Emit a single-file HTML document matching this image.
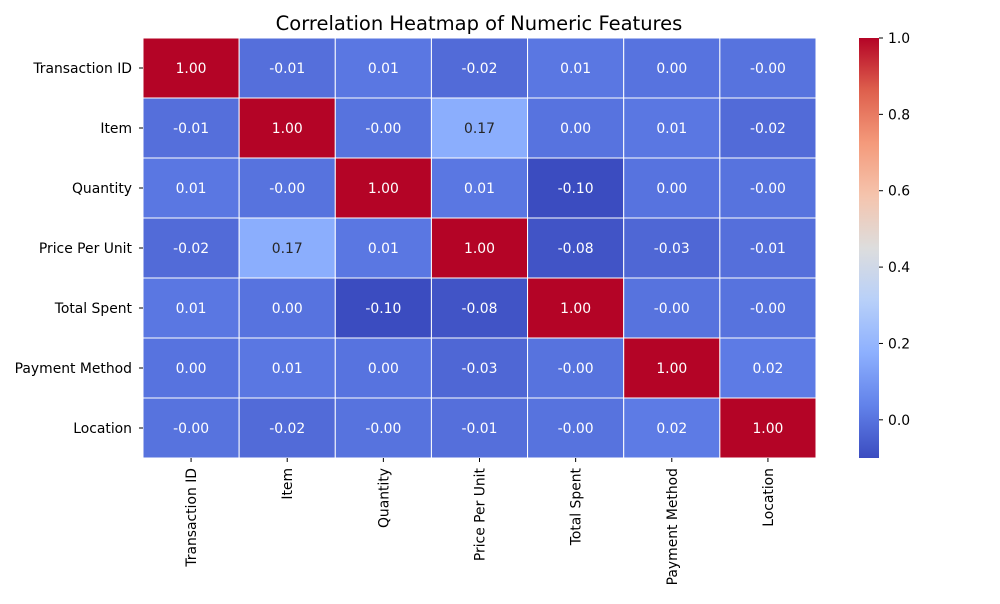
<!DOCTYPE html>
<html><head><meta charset="utf-8"><style>
body{margin:0;background:#fff;font-family:"DejaVu Sans","Liberation Sans",sans-serif}
</style></head><body>
<svg id="chart" width="1000" height="600" xmlns="http://www.w3.org/2000/svg" font-family="DejaVu Sans, Liberation Sans, sans-serif">
<defs><linearGradient id="cg" x1="0" y1="1" x2="0" y2="0">
<stop offset="0" stop-color="rgb(59,76,192)"/><stop offset="0.125" stop-color="rgb(98,130,234)"/>
<stop offset="0.25" stop-color="rgb(141,176,254)"/><stop offset="0.375" stop-color="rgb(184,208,249)"/>
<stop offset="0.5" stop-color="rgb(221,221,221)"/><stop offset="0.625" stop-color="rgb(245,196,173)"/>
<stop offset="0.75" stop-color="rgb(244,154,123)"/><stop offset="0.875" stop-color="rgb(222,96,77)"/>
<stop offset="1" stop-color="rgb(180,4,38)"/></linearGradient></defs>
<text x="479" y="30" text-anchor="middle" font-size="19.5" fill="#000">Correlation Heatmap of Numeric Features</text>
<g id="cells"></g><g id="labels"></g>
<rect x="859" y="38" width="20" height="420" fill="url(#cg)"/>
<g id="cbticks"></g>
</svg>
<script>
const categories=["Transaction ID","Item","Quantity","Price Per Unit","Total Spent","Payment Method","Location"];
const row0=[1.00,-0.01,0.01,-0.02,0.01,0.00,-0.001];
const row1=[-0.01,1.00,-0.001,0.17,0.00,0.01,-0.02];
const row2=[0.01,-0.001,1.00,0.01,-0.10,0.00,-0.001];
const row3=[-0.02,0.17,0.01,1.00,-0.08,-0.03,-0.01];
const row4=[0.01,0.00,-0.10,-0.08,1.00,-0.001,-0.001];
const row5=[0.00,0.01,0.00,-0.03,-0.001,1.00,0.02];
const row6=[-0.001,-0.02,-0.001,-0.01,-0.001,0.02,1.00];
const matrix=[row0,row1,row2,row3,row4,row5,row6];
const cbTicks=[0.0,0.2,0.4,0.6,0.8,1.0];
const vmin=-0.10,vmax=1.0;
const NS="http://www.w3.org/2000/svg";
const X0=143,X1=816,Y0=38,Y1=458,n=categories.length;
const cw=(X1-X0)/n,ch=(Y1-Y0)/n;
const xPos=i=>X0+i*cw, yPos=i=>Y0+i*ch;
const stops=[[59,76,192],[98,130,234],[141,176,254],[184,208,249],[221,221,221],[245,196,173],[244,154,123],[222,96,77],[180,4,38]];
function cmap(v){let t=Math.max(0,Math.min(1,(v-vmin)/(vmax-vmin)))*8;let i=Math.min(7,Math.floor(t)),f=t-i;
return stops[i].map((a,k)=>Math.round(a+(stops[i+1][k]-a)*f));}
function fmt(v){const s=Math.abs(v).toFixed(2);return (v<0?'-':'')+s;}
function mk(tag,attrs,parent){const e=document.createElementNS(NS,tag);for(const k in attrs)e.setAttribute(k,attrs[k]);parent.appendChild(e);return e;}
const cells=document.getElementById('cells'),labels=document.getElementById('labels');
matrix.forEach((row,r)=>row.forEach((v,c)=>{
 const col=cmap(v);
 const rect=mk('rect',{x:xPos(c),y:yPos(r),width:cw,height:ch,fill:`rgb(${col})`,stroke:'#fff','stroke-width':1},cells);
 
 
 const lum=(0.299*col[0]+0.587*col[1]+0.114*col[2]);
 const t=mk('text',{x:xPos(c)+cw/2,y:yPos(r)+ch/2+5,'text-anchor':'middle','font-size':13.9,fill:lum>150?'#262626':'#fff'},cells);
 t.textContent=fmt(v);
 
 
}));
categories.forEach((name,i)=>{
 const t=mk('text',{x:X0-11,y:yPos(i)+ch/2+5,'text-anchor':'end','font-size':13.9,fill:'#000'},labels);
 t.textContent=name;
 
 
 mk('line',{x1:X0-4,x2:X0,y1:yPos(i)+ch/2,y2:yPos(i)+ch/2,stroke:'#000'},labels);
 const cx=xPos(i)+cw/2;
 mk('line',{x1:cx,x2:cx,y1:Y1,y2:Y1+4,stroke:'#000'},labels);
 const u=mk('text',{x:0,y:0,'text-anchor':'end','font-size':13.9,fill:'#000',transform:`translate(${cx+5},${Y1+10}) rotate(-90)`},labels);
 u.textContent=name;
 
 
});
const cb=document.getElementById('cbticks');
const cbY=v=>458-(v-vmin)/(vmax-vmin)*420;
cbTicks.forEach(v=>{
 mk('line',{x1:879,x2:883,y1:cbY(v),y2:cbY(v),stroke:'#000'},cb);
 const t=mk('text',{x:888,y:cbY(v)+5,'font-size':13.9,fill:'#000'},cb);
 t.textContent=v.toFixed(1);
 
 
});
</script>
</body></html>
